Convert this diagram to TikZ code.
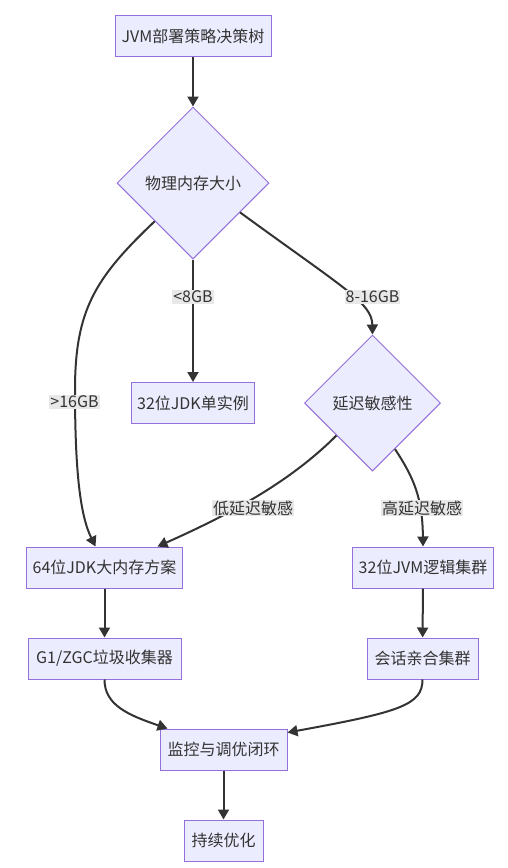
\documentclass[tikz,border=0pt]{standalone}
\usepackage{fontspec}
\newfontfamily\cjk{Noto Sans CJK SC}
\usetikzlibrary{shapes.geometric,arrows.meta}
\definecolor{nodefill}{HTML}{ECECFF}
\definecolor{nodeline}{HTML}{9370DB}
\definecolor{edgeline}{HTML}{333333}
\definecolor{lblfill}{HTML}{E8E8E8}
\begin{document}
\begin{tikzpicture}[x=1pt, y=-1pt, font=\cjk\fontsize{16pt}{19pt}\selectfont, text=edgeline,
		box/.style={draw=nodeline, fill=nodefill, line width=1pt, minimum height=41pt, inner xsep=6pt},
		choice/.style={diamond, draw=nodeline, fill=nodefill, line width=1pt, inner sep=0pt},
		edge/.style={draw=edgeline, line width=2pt, -{Triangle[length=10pt, width=11pt]}},
		lbl/.style={fill=lblfill, inner sep=1pt}]
	\useasboundingbox (0, 0) rectangle (507, 868);

	\node[box, minimum width=156pt] (root) at (193, 36) {JVM部署策略决策树};
	\node[choice, minimum width=152pt, minimum height=152pt] (mem) at (193, 183) {物理内存大小};
	\node[box, minimum width=123pt] (small) at (193, 403) {32位JDK单实例};
	\node[choice, minimum width=136pt, minimum height=136pt] (lat) at (372.5, 403) {延迟敏感性};
	\node[box, minimum width=155pt] (big) at (104.5, 567.5) {64位JDK大内存方案};
	\node[box, minimum width=140pt] (clus) at (423, 567.5) {32位JVM逻辑集群};
	\node[box, minimum width=153pt] (gc) at (104.5, 658.5) {G1/ZGC垃圾收集器};
	\node[box, minimum width=111pt] (sess) at (422.5, 658.5) {会话亲合集群};
	\node[box, minimum width=127pt] (mon) at (223.5, 749.5) {监控与调优闭环};
	\node[box, minimum width=79pt] (opt) at (223.5, 840.5) {持续优化};

	\draw[edge] (root) -- (mem);
	\draw[edge] (mem) -- (small);
	\draw[edge] (mem.-32) .. controls (345, 289) and (372, 303) .. (lat.north);
	\draw[edge] (mem.south west) .. controls (95, 278) and (75, 310) .. (75, 390) .. controls (75, 470) and (80, 515) .. ([xshift=-9pt]big.north);
	\draw[edge] (lat.-138) .. controls (292, 480) and (235, 512) .. ([xshift=53pt]big.north);
	\draw[edge] (lat.-64) .. controls (414, 478) and (422.5, 498) .. (clus.north);
	\draw[edge] (big) -- (gc);
	\draw[edge] (clus) -- (sess);
	\draw[edge] (gc.south) .. controls (104.5, 705) and (128, 715) .. ([xshift=-56pt]mon.north);
	\draw[edge] (sess.south) .. controls (422.5, 705) and (400, 712) .. ([yshift=-4pt]mon.north east);
	\draw[edge] (mon) -- (opt);

	\node[lbl] (lsmall) at (193, 297) {<8GB};
	\node[lbl] (lmid) at (372.5, 297) {8-16GB};
	\node[lbl] (lbig) at (74.5, 402) {>16GB};
	\node[lbl] (llow) at (253, 508) {低延迟敏感};
	\node[lbl] (lhigh) at (422, 508) {高延迟敏感};
\end{tikzpicture}
\end{document}
